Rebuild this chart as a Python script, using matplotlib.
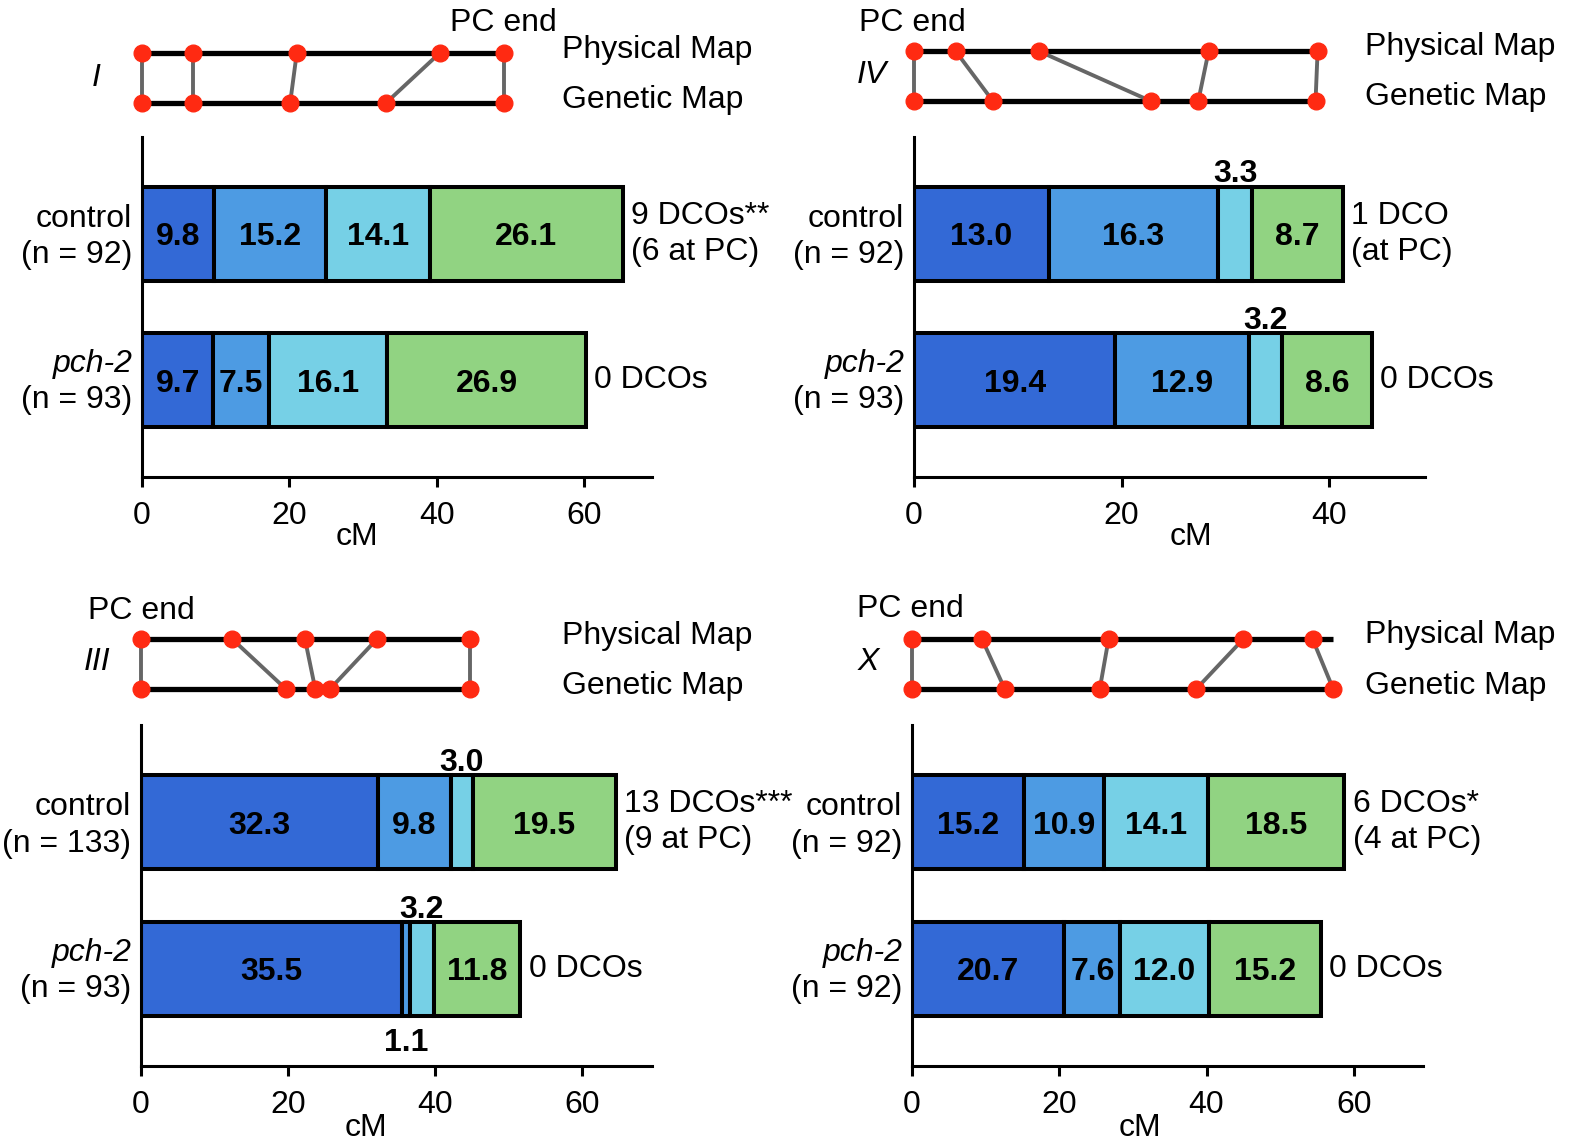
import matplotlib
matplotlib.use('Agg')
import matplotlib.pyplot as plt

plt.rcParams['font.family'] = ['Liberation Sans', 'DejaVu Sans']
plt.rcParams['font.size'] = 23

# -----------------------------
# Dados (cM por intervalo)
# -----------------------------
cores = ['#3369D6', '#4D9BE3', '#76D0E6', '#91D382']

# Cromossomo I
I_control = [9.8, 15.2, 14.1, 26.1]
I_pch2 = [9.7, 7.5, 16.1, 26.9]
I_n = [92, 93]
I_dco = ['9 DCOs**\n(6 at PC)', '0 DCOs']
I_fisico = [0, 6.9, 21.0, 40.4, 49.1]
I_genetico = [0, 6.9, 20.1, 33.1, 49.1]

# Cromossomo IV
IV_control = [13.0, 16.3, 3.3, 8.7]
IV_pch2 = [19.4, 12.9, 3.2, 8.6]
IV_n = [92, 93]
IV_dco = ['1 DCO\n(at PC)', '0 DCOs']
IV_fisico = [0, 4.0, 12.0, 28.4, 38.9]
IV_genetico = [0, 7.6, 22.8, 27.4, 38.7]

# Cromossomo III
III_control = [32.3, 9.8, 3.0, 19.5]
III_pch2 = [35.5, 1.1, 3.2, 11.8]
III_n = [133, 93]
III_dco = ['13 DCOs***\n(9 at PC)', '0 DCOs']
III_fisico = [0, 12.4, 22.3, 32.1, 44.8]
III_genetico = [0, 19.7, 23.7, 25.7, 44.8]

# Cromossomo X
X_control = [15.2, 10.9, 14.1, 18.5]
X_pch2 = [20.7, 7.6, 12.0, 15.2]
X_n = [92, 92]
X_dco = ['6 DCOs*\n(4 at PC)', '0 DCOs']
X_fisico = [0, 9.5, 26.7, 45.0, 54.4]
X_genetico = [0, 12.6, 25.5, 38.6, 57.2]

# -----------------------------
# Layout (pixels da figura)
# -----------------------------
W, H = 1573, 1148


def caixa(esq, dir_, topo, base):
    return [esq / W, 1 - base / H, (dir_ - esq) / W, (base - topo) / H]


def fxy(px, py):
    return px / W, 1 - py / H


def desenhar_painel(fig, lay, control, pch2, n, dco, fisico, genetico, nome):
    esq, dir_, topo, base = lay['barras']
    ax = fig.add_axes(caixa(esq, dir_, topo, base))
    ax.set_xlim(0, lay['xmax'])
    ax.set_ylim(1.66, -0.66)

    for i, segs in enumerate([control, pch2]):
        inicio = 0
        for j, v in enumerate(segs):
            ax.barh(i, v, left=inicio, height=0.64, color=cores[j],
                    edgecolor='black', linewidth=2.9, zorder=2)
            centro = inicio + v / 2
            if v >= 4:
                ax.text(centro, i, f'{v:.1f}', ha='center', va='center_baseline',
                        fontweight='bold', zorder=3)
            elif v >= 2:
                ax.text(centro, i - 0.35, f'{v:.1f}', ha='center', va='baseline',
                        fontweight='bold', zorder=3)
            else:
                ax.text(centro, i + 0.40, f'{v:.1f}', ha='center', va='top',
                        fontweight='bold', zorder=3)
            inicio += v
        ax.annotate(dco[i], xy=(inicio, i), xytext=(6, 0), textcoords='offset points',
                    ha='left', va='center', linespacing=1.25)

    # rótulos dos grupos
    ax.annotate('control', xy=(0, 0), xycoords=('axes fraction', 'data'),
                xytext=(-7, 13), textcoords='offset points', ha='right', va='center_baseline')
    ax.annotate(f'(n = {n[0]})', xy=(0, 0), xycoords=('axes fraction', 'data'),
                xytext=(-7, -13), textcoords='offset points', ha='right', va='center_baseline')
    ax.annotate('pch-2', xy=(0, 1), xycoords=('axes fraction', 'data'),
                xytext=(-7, 14), textcoords='offset points', ha='right', va='center_baseline',
                style='italic')
    ax.annotate(f'(n = {n[1]})', xy=(0, 1), xycoords=('axes fraction', 'data'),
                xytext=(-7, -12), textcoords='offset points', ha='right', va='center_baseline')

    ax.spines['top'].set_visible(False)
    ax.spines['right'].set_visible(False)
    ax.spines['left'].set_linewidth(2.2)
    ax.spines['bottom'].set_linewidth(2.2)
    ax.set_xticks(lay['ticks'])
    ax.tick_params(axis='x', direction='out', length=7, width=2.2, pad=10, labelsize=23)
    ax.tick_params(axis='y', left=False, labelleft=False)

    # mapa físico x genético
    mt, mb = lay['mapa']
    axm = fig.add_axes(caixa(esq, dir_, mt, mb))
    axm.set_xlim(0, lay['xmax'])
    axm.set_ylim(-0.2, 1.2)
    axm.axis('off')
    fim = max(max(fisico), max(genetico))
    axm.plot([0, fim], [1, 1], color='black', lw=3.8, zorder=1, clip_on=False,
             solid_capstyle='butt')
    axm.plot([0, fim], [0, 0], color='black', lw=3.8, zorder=1, clip_on=False,
             solid_capstyle='butt')
    for a, b in zip(fisico, genetico):
        axm.plot([a, b], [1, 0], color='#666666', lw=2.8, zorder=2, clip_on=False)
    axm.plot(fisico, [1] * len(fisico), 'o', color='#FF2A12', ms=12, zorder=3, clip_on=False)
    axm.plot(genetico, [0] * len(genetico), 'o', color='#FF2A12', ms=12, zorder=3, clip_on=False)

    fig.text(*fxy(*lay['pc']), 'PC end', ha='center', va='center')
    fig.text(*fxy(*lay['fis']), 'Physical Map', ha='left', va='center')
    fig.text(*fxy(*lay['gen']), 'Genetic Map', ha='left', va='center')
    fig.text(*fxy(*lay['nome']), nome, ha='center', va='center', style='italic')
    fig.text(*fxy(*lay['cm']), 'cM', ha='center', va='center')


fig = plt.figure(figsize=(W / 100, H / 100), dpi=100)

lay_I = dict(barras=(142, 652, 137, 477), xmax=69.2, ticks=[0, 20, 40, 60], mapa=(43, 113),
             pc=(503, 23), fis=(562, 50), gen=(562, 100), nome=(96, 78), cm=(357, 537))
lay_IV = dict(barras=(914, 1425, 137, 477), xmax=49.25, ticks=[0, 20, 40], mapa=(41, 111),
              pc=(912, 23), fis=(1365, 47), gen=(1365, 97), nome=(872, 75), cm=(1191, 537))
lay_III = dict(barras=(141, 652, 725, 1066), xmax=69.5, ticks=[0, 20, 40, 60], mapa=(629, 699),
               pc=(141, 611), fis=(562, 636), gen=(562, 686), nome=(97, 662), cm=(366, 1128))
lay_X = dict(barras=(912, 1423, 725, 1066), xmax=69.4, ticks=[0, 20, 40, 60], mapa=(629, 699),
             pc=(910, 609), fis=(1365, 635), gen=(1365, 686), nome=(868, 662), cm=(1140, 1128))

desenhar_painel(fig, lay_I, I_control, I_pch2, I_n, I_dco, I_fisico, I_genetico, 'I')
desenhar_painel(fig, lay_IV, IV_control, IV_pch2, IV_n, IV_dco, IV_fisico, IV_genetico, 'IV')
desenhar_painel(fig, lay_III, III_control, III_pch2, III_n, III_dco, III_fisico, III_genetico, 'III')
desenhar_painel(fig, lay_X, X_control, X_pch2, X_n, X_dco, X_fisico, X_genetico, 'X')

fig.savefig('out.png', dpi=100)
plt.close(fig)
